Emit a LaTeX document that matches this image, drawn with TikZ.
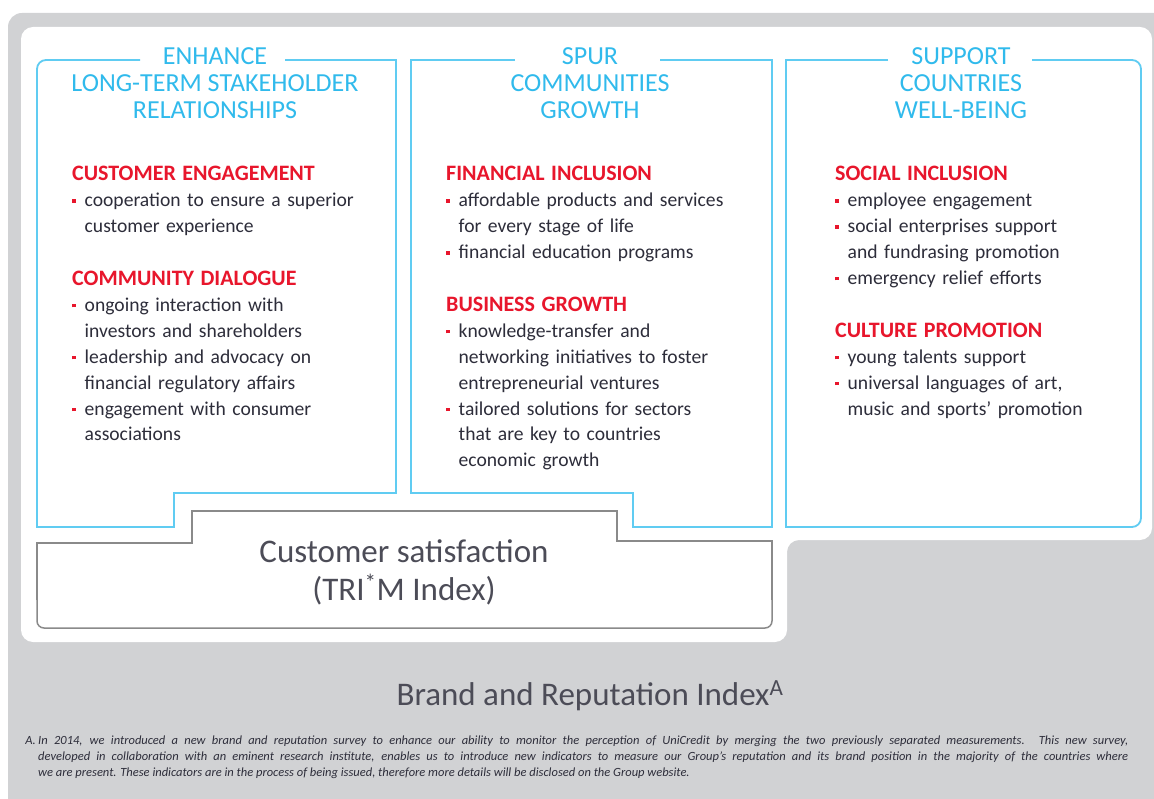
\documentclass[tikz,border=0pt]{standalone}
\usepackage{fontspec}
\setmainfont{Carlito}
\usepackage{tikz}
\usetikzlibrary{positioning}

\definecolor{ucblue}{RGB}{48,186,236}
\definecolor{ucframe}{RGB}{96,204,242}
\definecolor{ucred}{RGB}{232,22,44}
\definecolor{uctext}{RGB}{45,45,58}
\definecolor{ucgray}{RGB}{209,210,212}
\definecolor{ucline}{RGB}{138,138,138}

\newcommand{\hd}[1]{\par\noindent{\fontsize{22}{25.9}\selectfont\bfseries\color{ucred}#1}\par}
\newcommand{\itm}[1]{\par\hangindent=12.5pt\hangafter=1\noindent\makebox[12.5pt][l]{\textcolor{ucred}{\rule[4pt]{3.5pt}{3.5pt}}}#1\par}
\newcommand{\gap}{\par\vspace{27pt}}

\begin{document}
\begin{tikzpicture}[x=1pt,y=-1pt,
	frame/.style={ucframe,line width=1.8pt},
	satline/.style={ucline,line width=1.5pt},
	ttl/.style={anchor=base,align=center,inner sep=0pt,text=ucblue,font=\fontsize{26}{27}\selectfont},
	col/.style={anchor=base west,inner sep=0pt,text width=340pt,align=left,text=uctext,font=\fontsize{19.6}{25.9}\selectfont},
	big/.style={anchor=base,align=center,inner sep=0pt,text=uctext!85,font=\fontsize{33}{38}\selectfont},
	note/.style={anchor=base west,inner sep=0pt,text width=1090pt,align=justify,text=uctext,font=\fontsize{12.5}{16}\selectfont\itshape}]
	\useasboundingbox (0,0) rectangle (1154,799);

	% background
	\fill[ucgray,rounded corners=14pt] (8,13) rectangle (1190,840);
	\fill[white,rounded corners=12pt] (21,27) -- (1152,27) -- (1152,540) -- (787,540) -- (787,642) -- (21,642) -- cycle;

	% three frames
	\draw[frame,rounded corners=9pt] (140,60) -- (37,60) -- (37,300);
	\draw[frame] (37,300) -- (37,527) -- (174,527) -- (174,493) -- (396,493) -- (396,60) -- (285,60);
	\draw[frame] (515,60) -- (411,60) -- (411,493) -- (633,493) -- (633,527) -- (772,527) -- (772,60) -- (660,60);
	\draw[frame] (888,60) -- (786,60) -- (786,527) -- (1000,527);
	\draw[frame,rounded corners=9pt] (1000,527) -- (1141,527) -- (1141,60) -- (1032,60);

	% customer satisfaction box
	\draw[satline] (300,511) -- (617,511) -- (617,541) -- (772,541) -- (772,600);
	\draw[satline,rounded corners=7pt] (772,600) -- (772,628) -- (37,628) -- (37,600);
	\draw[satline] (37,600) -- (37,543) -- (192,543) -- (192,511) -- (300,511);

	% titles
	\node[ttl] (t1) at (215,119) {ENHANCE\\LONG-TERM STAKEHOLDER\\RELATIONSHIPS};
	\node[ttl] (t2) at (590,119) {SPUR\\COMMUNITIES\\GROWTH};
	\node[ttl] (t3) at (961,119) {SUPPORT\\COUNTRIES\\WELL-BEING};

	% columns
	\node[col] (c1) at (72,155) {%
		\hd{CUSTOMER ENGAGEMENT}
		\itm{cooperation to ensure a superior\newline customer experience}
		\gap
		\hd{COMMUNITY DIALOGUE}
		\itm{ongoing interaction with\newline investors and shareholders}
		\itm{leadership and advocacy on\newline financial regulatory affairs}
		\itm{engagement with consumer\newline associations}};
	\node[col] (c2) at (446,155) {%
		\hd{FINANCIAL INCLUSION}
		\itm{affordable products and services\newline for every stage of life}
		\itm{financial education programs}
		\gap
		\hd{BUSINESS GROWTH}
		\itm{knowledge-transfer and\newline networking initiatives to foster\newline entrepreneurial ventures}
		\itm{tailored solutions for sectors\newline that are key to countries\newline economic growth}};
	\node[col] (c3) at (835,155) {%
		\hd{SOCIAL INCLUSION}
		\itm{employee engagement}
		\itm{social enterprises support\newline and fundrasing promotion}
		\itm{emergency relief efforts}
		\gap
		\hd{CULTURE PROMOTION}
		\itm{young talents support}
		\itm{universal languages of art,\newline music and sports' promotion}};

	% bottom labels
	\node[big] (sat) at (404,600) {Customer satisfaction\\(TRI\textsuperscript{*}M Index)};
	\node[big] (brand) at (590,705) {Brand and Reputation Index\textsuperscript{A}};

	% footnote
	\node[note] (fn) at (38,744) {In 2014, we introduced a new brand and reputation survey to enhance our ability to monitor the perception of UniCredit by merging the two previously separated measurements. This new survey,\linebreak developed in collaboration with an eminent research institute, enables us to introduce new indicators to measure our Group's reputation and its brand position in the majority of the countries where\linebreak we are present. These indicators are in the process of being issued, therefore more details will be disclosed on the Group website.};
	\node[note,anchor=base east,text width=] (fnA) at ([xshift=-2pt]fn.base west) {A.};
\end{tikzpicture}
\end{document}
